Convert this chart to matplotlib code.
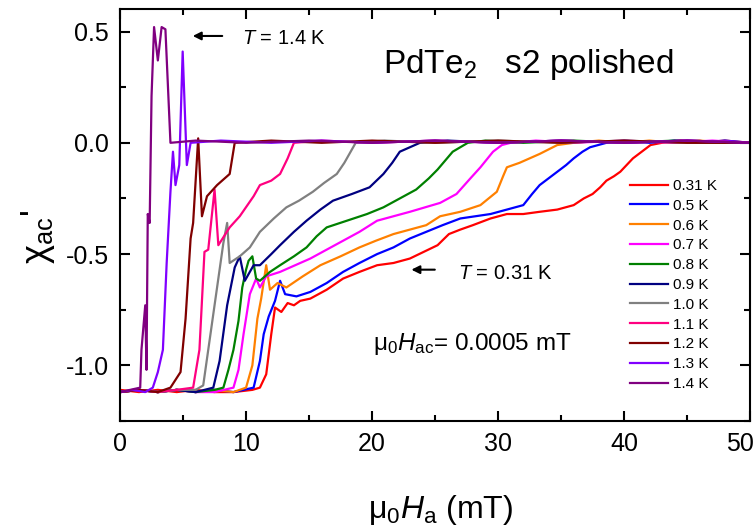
import matplotlib
matplotlib.use('Agg')
from matplotlib import pyplot as plt
from matplotlib.ticker import MultipleLocator

plt.rcParams['font.family'] = ['Liberation Sans', 'DejaVu Sans']
plt.rcParams['mathtext.fontset'] = 'custom'
plt.rcParams['mathtext.rm'] = 'Liberation Sans'
plt.rcParams['mathtext.it'] = 'Liberation Sans:italic'
plt.rcParams['axes.unicode_minus'] = False

# data: field in mT, chi_ac' (normalised)
h_031 = [0, 1.5, 3, 4.5, 6, 7.5, 9, 10.5, 11.1, 11.6, 12.0, 12.3, 12.8, 13.3, 13.8, 14.3,
         15.1, 16.4, 17.7, 19.0, 20.4, 21.7, 23.0, 24.1, 25.2, 26.1, 27.0, 28.0, 29.4, 30.7, 32.0, 33.3,
         34.7, 36.0, 36.8, 37.5, 38.1, 38.6, 39.2, 39.7, 40.2, 40.7, 41.4, 42.1, 43, 44.5, 46, 48, 50]
chi_031 = [-1.11, -1.12, -1.11, -1.12, -1.11, -1.12, -1.12, -1.11, -1.10, -1.04, -0.86, -0.74, -0.76, -0.72, -0.73, -0.71,
           -0.70, -0.66, -0.61, -0.58, -0.55, -0.54, -0.52, -0.49, -0.46, -0.41, -0.39, -0.37, -0.34, -0.32, -0.32, -0.31,
           -0.30, -0.28, -0.25, -0.23, -0.20, -0.17, -0.15, -0.13, -0.10, -0.07, -0.04, -0.01, 0.0, 0.01, 0.0, 0.01, 0.0]

h_05 = [0, 1.5, 3, 4.5, 6, 7.5, 9, 10.6, 11.1, 11.4, 11.8, 12.3, 12.7, 13.1, 14.0, 15.1,
        16.4, 17.7, 19.0, 20.4, 21.7, 23.0, 24.3, 25.6, 27.0, 28.2, 29.4, 30.7, 32.0, 32.7, 33.3, 34.0,
        34.7, 35.4, 36.0, 36.7, 37.3, 38.6, 40, 42, 44, 46, 48, 50]
chi_05 = [-1.12, -1.11, -1.12, -1.11, -1.12, -1.11, -1.12, -1.10, -0.98, -0.86, -0.78, -0.71, -0.62, -0.68, -0.69, -0.67,
          -0.63, -0.58, -0.54, -0.50, -0.47, -0.43, -0.40, -0.37, -0.34, -0.33, -0.32, -0.30, -0.28, -0.23, -0.19, -0.16,
          -0.13, -0.10, -0.07, -0.04, -0.02, 0.0, 0.01, 0.0, 0.01, 0.0, 0.01, 0.0]

h_06 = [0, 1.5, 3, 4.5, 6, 7.5, 9, 10.0, 10.5, 10.9, 11.2, 11.6, 11.9, 12.5, 13.2, 14.5,
        15.9, 17.5, 19.0, 20.3, 21.7, 23.0, 24.3, 25.4, 27.0, 28.6, 29.9, 30.4, 30.7, 31.7, 32.5, 33.3,
        34.0, 34.7, 36, 38, 40, 42, 44, 46, 48, 50]
chi_06 = [-1.12, -1.11, -1.12, -1.11, -1.12, -1.11, -1.12, -1.10, -1.00, -0.79, -0.70, -0.55, -0.66, -0.63, -0.65, -0.60,
          -0.55, -0.51, -0.47, -0.44, -0.41, -0.39, -0.37, -0.33, -0.31, -0.28, -0.22, -0.15, -0.11, -0.09, -0.07, -0.05,
          -0.03, -0.01, 0.0, 0.01, 0.0, 0.01, 0.0, 0.01, 0.0, 0.0]

h_07 = [0, 1.5, 3, 4.5, 6, 7.5, 9.0, 9.4, 9.8, 10.3, 10.8, 11.1, 11.6, 12.7, 13.9, 15.1,
        16.4, 17.7, 19.0, 20.4, 21.7, 23.0, 24.2, 25.4, 26.7, 27.8, 28.6, 29.6, 30.3, 31, 33, 36, 40, 44, 47, 50]
chi_07 = [-1.12, -1.11, -1.12, -1.11, -1.12, -1.12, -1.10, -1.02, -0.86, -0.68, -0.61, -0.65, -0.60, -0.58, -0.55, -0.52,
          -0.48, -0.44, -0.40, -0.35, -0.33, -0.31, -0.29, -0.27, -0.23, -0.16, -0.11, -0.04, -0.01, 0.0, 0.01, 0.0, 0.01, 0.0, 0.01, 0.0]

h_08 = [0, 1.5, 3, 4.5, 6, 7.5, 8.2, 8.6, 9.0, 9.4, 9.7, 10.0, 10.2, 10.5, 10.8, 11.1,
        11.9, 12.7, 13.8, 14.8, 15.6, 16.4, 18.0, 19.6, 20.9, 22.2, 23.5, 24.5, 25.2, 25.8, 26.4, 27.0,
        27.6, 29, 32, 36, 40, 44, 47, 50]
chi_08 = [-1.12, -1.11, -1.12, -1.11, -1.12, -1.11, -1.10, -1.02, -0.93, -0.80, -0.65, -0.57, -0.53, -0.51, -0.61, -0.62,
          -0.58, -0.55, -0.51, -0.47, -0.42, -0.38, -0.35, -0.32, -0.29, -0.25, -0.21, -0.16, -0.12, -0.08, -0.04, -0.02,
          0.0, 0.01, 0.0, 0.01, 0.0, 0.01, 0.0, 0.0]

h_09 = [0, 1.5, 3, 4.5, 6, 7.4, 7.9, 8.5, 9.1, 9.5, 9.9, 10.6, 11.1, 12.0, 12.7, 13.8,
        14.8, 15.9, 16.9, 18.4, 19.8, 20.9, 21.6, 22.2, 23.0, 23.8, 26, 30, 35, 40, 45, 50]
chi_09 = [-1.12, -1.11, -1.12, -1.11, -1.12, -1.10, -0.98, -0.73, -0.56, -0.51, -0.62, -0.55, -0.55, -0.50, -0.46, -0.40,
          -0.35, -0.30, -0.26, -0.23, -0.20, -0.14, -0.09, -0.04, -0.02, 0.0, 0.01, 0.0, 0.01, 0.0, 0.01, 0.0]

h_10 = [0, 1.5, 3, 4.5, 6.0, 6.6, 7.0, 7.7, 8.2, 8.5, 8.7, 9.5, 10.3, 11.1, 12.2, 13.2,
        14.2, 15.3, 16.2, 17.2, 17.8, 18.3, 18.7, 21, 25, 30, 35, 40, 45, 50]
chi_10 = [-1.12, -1.11, -1.12, -1.11, -1.11, -1.09, -0.93, -0.65, -0.45, -0.36, -0.54, -0.51, -0.47, -0.40, -0.34, -0.29,
          -0.26, -0.22, -0.18, -0.14, -0.09, -0.04, 0.0, 0.01, 0.0, 0.01, 0.0, 0.01, 0.0, 0.0]

h_11 = [0, 1.5, 3, 4.5, 5.8, 6.3, 6.7, 7.0, 7.5, 7.8, 8.7, 9.5, 10.6, 11.1, 12.0, 12.7,
        13.3, 13.8, 16, 20, 25, 30, 35, 40, 45, 50]
chi_11 = [-1.12, -1.11, -1.12, -1.11, -1.10, -0.93, -0.49, -0.48, -0.21, -0.46, -0.38, -0.33, -0.24, -0.19, -0.17, -0.14,
          -0.07, 0.0, 0.01, 0.0, 0.01, 0.0, 0.01, 0.0, 0.01, 0.0]

h_12 = [0, 1.5, 3, 4.0, 4.8, 5.2, 5.6, 5.8, 6.2, 6.5, 6.9, 7.7, 8.7, 9.1, 12, 16, 20, 25, 30, 35, 40, 45, 50]
chi_12 = [-1.12, -1.11, -1.12, -1.10, -1.03, -0.79, -0.43, -0.36, 0.02, -0.33, -0.24, -0.19, -0.14, 0.0, 0.01, 0.0,
          0.01, 0.0, 0.01, 0.0, 0.01, 0.0, 0.0]

h_13 = [0, 1.0, 2.0, 2.6, 3.0, 3.4, 3.7, 4.0, 4.2, 4.4, 4.7, 4.97, 5.3, 5.6, 8, 12, 16, 20, 25, 30, 35, 40, 45, 50]
chi_13 = [-1.12, -1.11, -1.12, -1.10, -1.03, -0.93, -0.54, -0.22, -0.04, -0.19, -0.10, 0.41, -0.10, 0.0, 0.01, 0.0,
          0.01, 0.0, 0.01, 0.0, 0.01, 0.0, 0.01, 0.0]

h_14 = [0, 0.8, 1.6, 1.7, 2.0, 2.1, 2.2, 2.35, 2.5, 2.7, 3.0, 3.3, 3.6, 4.0, 6, 10, 15, 20, 25, 30, 35, 40, 45, 50]
chi_14 = [-1.12, -1.11, -1.10, -0.93, -0.73, -1.02, -0.32, -0.36, 0.21, 0.52, 0.37, 0.52, 0.51, 0.0, 0.01, 0.0,
          0.01, 0.0, 0.01, 0.0, 0.01, 0.0, 0.01, 0.0]

labels = ['0.31 K', '0.5 K', '0.6 K', '0.7 K', '0.8 K', '0.9 K', '1.0 K', '1.1 K', '1.2 K', '1.3 K', '1.4 K']
fields = [h_031, h_05, h_06, h_07, h_08, h_09, h_10, h_11, h_12, h_13, h_14]
chis = [chi_031, chi_05, chi_06, chi_07, chi_08, chi_09, chi_10, chi_11, chi_12, chi_13, chi_14]
colors = ['#FF0000', '#0000FF', '#FF8000', '#FF00FF', '#008000', '#000080',
          '#808080', '#FF0080', '#800000', '#8000FF', '#800080']
xticks = [0, 10, 20, 30, 40, 50]

fig = plt.figure(figsize=(7.55, 5.32), dpi=100)
ax = fig.add_axes([0.159, 0.2086, 0.8345, 0.774])

for h, c, lab, col in zip(fields, chis, labels, colors):
    ax.plot(h, c, color=col, lw=1.6, label=lab)

ax.set_xlim(0, 50)
ax.set_ylim(-1.25, 0.6)
# last x label is drawn separately, shifted left so it stays inside the figure
ax.set_xticks(xticks, [str(t) for t in xticks[:-1]] + [''])
ax.xaxis.set_minor_locator(MultipleLocator(5))
ax.yaxis.set_major_locator(MultipleLocator(0.5))
ax.yaxis.set_minor_locator(MultipleLocator(0.25))
ax.tick_params(which='both', direction='in', top=True, right=True, width=1.5, labelsize=18, pad=8)
ax.tick_params(which='major', length=7)
ax.tick_params(which='minor', length=4)
for s in ax.spines.values():
    s.set_linewidth(1.5)
ax.annotate(str(xticks[-1]), xy=(xticks[-1], 0), xycoords=ax.get_xaxis_transform(),
            xytext=(-7, -8), textcoords='offset points', ha='center', va='top', fontsize=18)

# legend
ax.legend(loc='upper left', bbox_to_anchor=(0.8095, 0.588), frameon=False, fontsize=11,
          handlelength=2.5, handletextpad=0.3, labelspacing=0.38, borderpad=0, borderaxespad=0)

# texts and arrows
ax.text(20.9, 0.315, 'PdTe$_2$   s2 polished', fontsize=24, va='baseline')
ax.annotate('', xy=(5.55, 0.48), xytext=(8.33, 0.48),
            arrowprops=dict(arrowstyle='-|>', color='k', lw=1.5, mutation_scale=12))
ax.text(9.66, 0.443, '$T$ = 1.4 K', fontsize=14.5, va='baseline')
ax.annotate('', xy=(22.9, -0.57), xytext=(25.2, -0.57),
            arrowprops=dict(arrowstyle='-|>', color='k', lw=1.5, mutation_scale=12))
ax.text(26.8, -0.614, '$T$ = 0.31 K', fontsize=14.5, va='baseline')
ax.text(20.1, -0.93, 'μ$_0$$H_{\\rm ac}$= 0.0005 mT', fontsize=17.5, va='baseline')

# axis labels
fig.text(0.584, 0.041, 'μ$_0$$H_{\\rm a}$ (mT)', fontsize=23, ha='center', va='center')
fig.text(0.05, 0.555, "χ$_{\\rm ac}$'", fontsize=26, rotation=90, ha='center', va='center')

plt.savefig('out.png', dpi=100)
